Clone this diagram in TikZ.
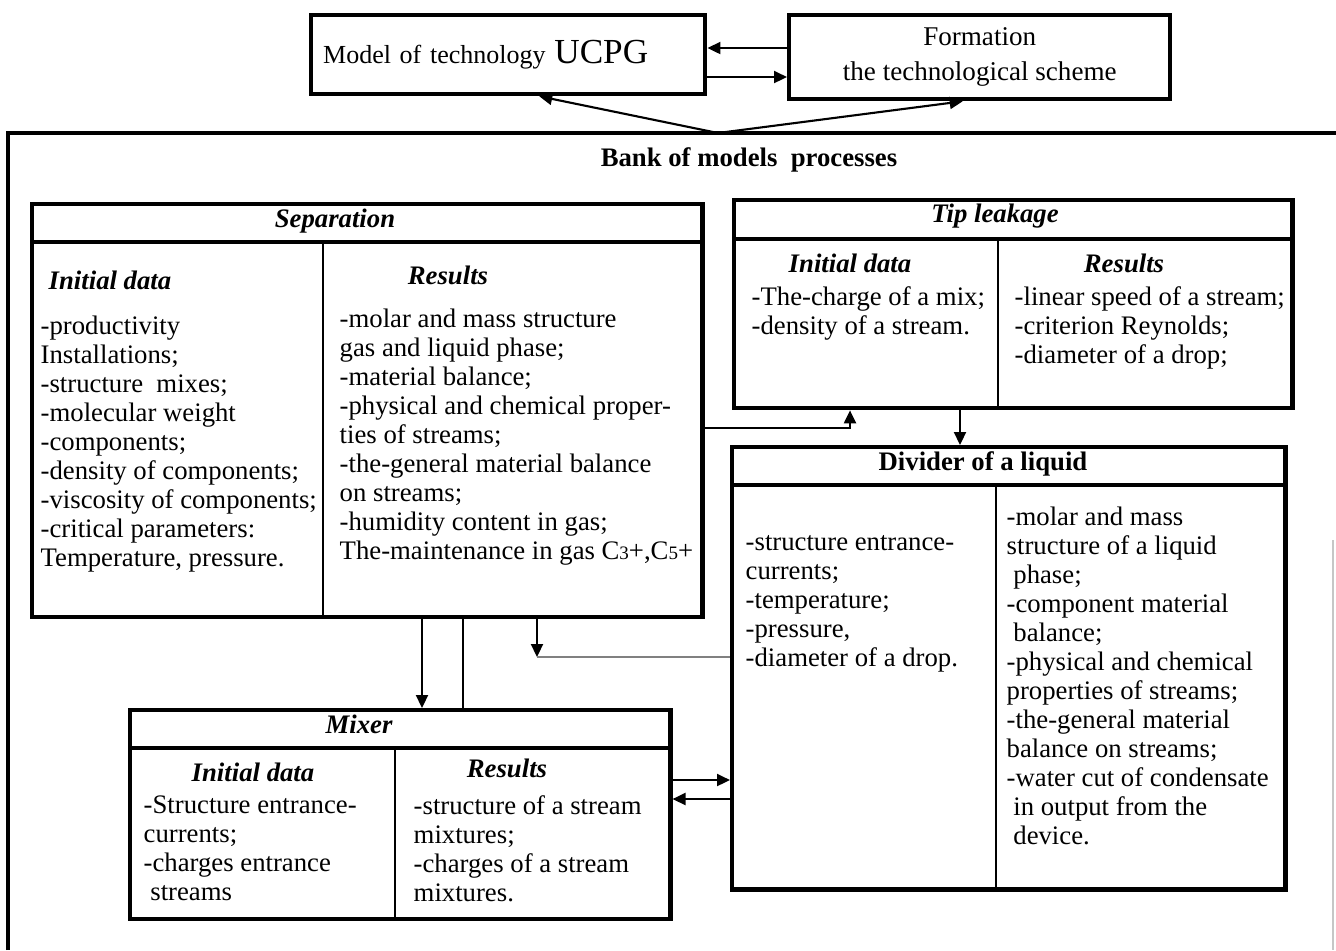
\documentclass[tikz,border=0pt]{standalone}
\usepackage{fontspec}
\setmainfont{Liberation Serif}
\usetikzlibrary{arrows.meta}
\newcommand\bodysize{\fontsize{7.6}{8.25}\selectfont}
\newcommand\smalldig{\fontsize{5.4}{6}\selectfont}
\tikzset{frame/.style={draw,line width=1.2pt,anchor=north west,inner sep=0pt},
         topbox/.style={draw,line width=1.2pt,anchor=north west},
         rowline/.style={line width=0.9pt},
         colline/.style={line width=0.6pt},
         conn/.style={line width=0.6pt},
         arr/.style={conn,-{Triangle[length=1.3mm,width=1.2mm]}},
         boxtitle/.style={font=\bodysize\bfseries\itshape,inner sep=0pt},
         cell/.style={anchor=north west,align=left,inner sep=0pt,font=\bodysize},
         }
\begin{document}
\begin{tikzpicture}[x=0.01cm,y=-0.01cm]
\useasboundingbox (0,0) rectangle (1336,950);
\node[topbox,minimum width=3.94cm,minimum height=0.79cm,text width=3.70cm,inner xsep=0.12cm,align=left,
      font=\fontsize{7.4}{10}\selectfont] (model) at (309,13) {Model of technology {\fontsize{10}{12}\selectfont UCPG}};
\node[topbox,minimum width=3.81cm,minimum height=0.84cm,align=center,
      font=\fontsize{7.7}{10}\selectfont] (form) at (787,13) {Formation\\the technological scheme};
\draw[arr] (form.west |- 0,48) -- (model.east |- 0,48);
\draw[arr] (model.east |- 0,77) -- (form.west |- 0,77);

\draw[line width=0.9pt] (8,950) -- (8,133) -- (1336,133);
\draw[gray!45,line width=0.4pt] (1333,540) -- (1333,950);
\coordinate (hub) at (718,133);
\draw[arr] (hub) -- ([xshift=0.31cm]model.south);
\draw[arr] (hub) -- ([xshift=-0.17cm]form.south);
\node[font=\bodysize\bfseries,inner sep=0pt] (bank) at (749,160) {Bank of models\ \ processes};

\node[frame,minimum width=6.70cm,minimum height=4.13cm] (sep) at (30,202) {};
\draw[rowline] (sep.west |- 0,242) -- (sep.east |- 0,242);
\draw[colline] (323,242) -- (sep.south -| 323,0);
\node[boxtitle] (septitle) at (335,221) {Separation};
\node[boxtitle,anchor=west] (sepin) at (48,280) {Initial data};
\node[boxtitle] (sepres) at (448,275) {Results};
\node[cell] (sepdata) at (40,315) {-productivity\\Installations;\\-structure\ \ mixes;\\-molecular weight\\-components;\\-density of components;\\-viscosity of components;\\-critical parameters:\\Temperature, pressure.};
\node[cell] (sepout) at (339,308) {-molar and mass structure\\gas and liquid phase;\\-material balance;\\-physical and chemical proper-\\ties of streams;\\-the-general material balance\\on streams;\\-humidity content in gas;\\The-maintenance in gas C{\smalldig 3}+,C{\smalldig 5}+};

\node[frame,minimum width=5.58cm,minimum height=2.08cm] (tip) at (732,198) {};
\draw[rowline] (tip.west |- 0,239) -- (tip.east |- 0,239);
\draw[colline] (998,239) -- (tip.south -| 998,0);
\node[boxtitle] (tiptitle) at (995,216) {Tip leakage};
\node[boxtitle] (tipin) at (850,263) {Initial data};
\node[boxtitle] (tipres) at (1124,263) {Results};
\node[cell] (tipdata) at (751,286) {-The-charge of a mix;\\-density of a stream.};
\node[cell] (tipout) at (1014,286) {-linear speed of a stream;\\-criterion Reynolds;\\-diameter of a drop;};

\node[frame,minimum width=5.53cm,minimum height=4.42cm] (div) at (730,445) {};
\draw[rowline] (div.west |- 0,485) -- (div.east |- 0,485);
\draw[colline] (996,485) -- (div.south -| 996,0);
\node[font=\bodysize\bfseries,inner sep=0pt] (divtitle) at (983,464) {Divider of a liquid};
\node[cell] (divdata) at (745,535) {-structure entrance-\\currents;\\-temperature;\\-pressure,\\-diameter of a drop.};
\node[cell] (divout) at (1006,506) {-molar and mass\\structure of a liquid\\\ phase;\\-component material\\\ balance;\\-physical and chemical\\properties of streams;\\-the-general material\\balance on streams;\\-water cut of condensate\\\ in output from the\\\ device.};

\node[frame,minimum width=5.40cm,minimum height=2.09cm] (mix) at (128,708) {};
\draw[rowline] (mix.west |- 0,748) -- (mix.east |- 0,748);
\draw[colline] (395,748) -- (mix.south -| 395,0);
\node[boxtitle] (mixtitle) at (359,724) {Mixer};
\node[boxtitle] (mixin) at (253,772) {Initial data};
\node[boxtitle] (mixres) at (507,768) {Results};
\node[cell] (mixdata) at (143,795) {-Structure entrance-\\currents;\\-charges entrance\\\ streams};
\node[cell] (mixout) at (413,795) {-structure of a stream\\mixtures;\\-charges of a stream\\mixtures.};

\draw[arr] (sep.east |- 0,428) -| (tip.south -| 850,0);
\draw[arr] (tip.south -| 960,0) -- (div.north -| 960,0);
\draw[arr] (sep.south -| 422,0) -- (mix.north -| 422,0);
\draw[conn] (sep.south -| 463,0) -- (mix.north -| 463,0);
\coordinate (drop) at (537,657);
\draw[arr] (sep.south -| drop) -- (drop);
\draw[gray,line width=0.4pt] (div.west |- drop) -- (drop);
\draw[arr] (mix.east |- 0,780) -- (div.west |- 0,780);
\draw[arr] (div.west |- 0,799) -- (mix.east |- 0,799);
\end{tikzpicture}
\end{document}
